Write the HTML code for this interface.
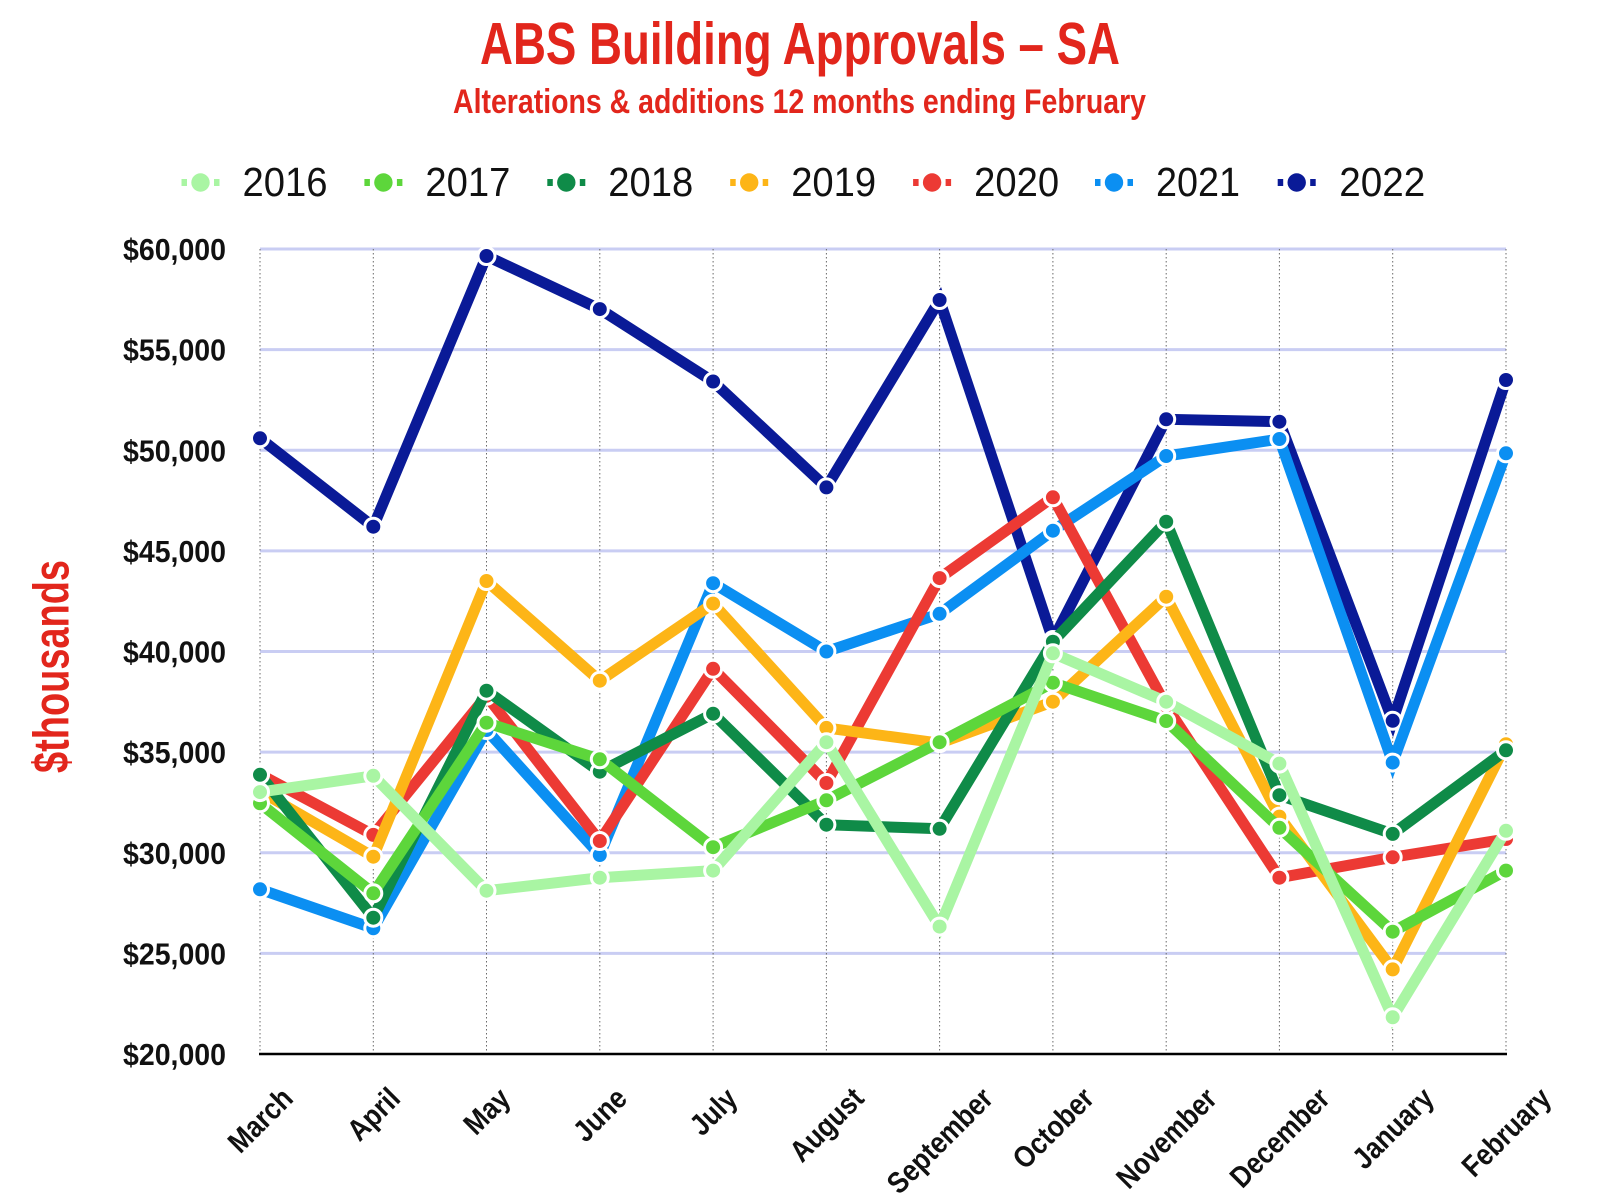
<!DOCTYPE html>
<html>
<head>
<meta charset="utf-8">
<style>
  html, body { margin: 0; padding: 0; background: #ffffff; }
  svg { display: block; }
  text { font-family: "Liberation Sans", "DejaVu Sans", sans-serif; }
</style>
</head>
<body>
<svg width="1600" height="1200" viewBox="0 0 1600 1200" xmlns="http://www.w3.org/2000/svg">
  <rect x="0" y="0" width="1600" height="1200" fill="#ffffff"/>

  <!-- Titles -->
  <text x="480" y="64" font-size="59" font-weight="bold" fill="#e2261c" textLength="640" lengthAdjust="spacingAndGlyphs">ABS Building Approvals – SA</text>
  <text x="453" y="113" font-size="34.5" font-weight="bold" fill="#e2261c" textLength="693" lengthAdjust="spacingAndGlyphs">Alterations &amp; additions 12 months ending February</text>

  <!-- Legend -->
  <g>
    <rect x="181.5" y="179" width="5.5" height="7" fill="#a9f5a3"/><circle cx="200.5" cy="182.5" r="9.2" fill="#a9f5a3"/><rect x="214" y="179" width="5.5" height="7" fill="#a9f5a3"/>
    <text x="242.5" y="196" font-size="40.5" fill="#111" textLength="85" lengthAdjust="spacingAndGlyphs">2016</text>

    <rect x="364.4" y="179" width="5.5" height="7" fill="#5dd63b"/><circle cx="383.4" cy="182.5" r="9.2" fill="#5dd63b"/><rect x="396.9" y="179" width="5.5" height="7" fill="#5dd63b"/>
    <text x="425.4" y="196" font-size="40.5" fill="#111" textLength="85" lengthAdjust="spacingAndGlyphs">2017</text>

    <rect x="547.3" y="179" width="5.5" height="7" fill="#0f8b48"/><circle cx="566.3" cy="182.5" r="9.2" fill="#0f8b48"/><rect x="579.8" y="179" width="5.5" height="7" fill="#0f8b48"/>
    <text x="608.3" y="196" font-size="40.5" fill="#111" textLength="85" lengthAdjust="spacingAndGlyphs">2018</text>

    <rect x="730.2" y="179" width="5.5" height="7" fill="#fdb517"/><circle cx="749.2" cy="182.5" r="9.2" fill="#fdb517"/><rect x="762.7" y="179" width="5.5" height="7" fill="#fdb517"/>
    <text x="791.2" y="196" font-size="40.5" fill="#111" textLength="85" lengthAdjust="spacingAndGlyphs">2019</text>

    <rect x="913.1" y="179" width="5.5" height="7" fill="#ec3a34"/><circle cx="932.1" cy="182.5" r="9.2" fill="#ec3a34"/><rect x="945.6" y="179" width="5.5" height="7" fill="#ec3a34"/>
    <text x="974.1" y="196" font-size="40.5" fill="#111" textLength="85" lengthAdjust="spacingAndGlyphs">2020</text>

    <rect x="1095" y="179" width="5.5" height="7" fill="#0b8ff2"/><circle cx="1114" cy="182.5" r="9.2" fill="#0b8ff2"/><rect x="1127.5" y="179" width="5.5" height="7" fill="#0b8ff2"/>
    <text x="1156" y="196" font-size="40.5" fill="#111" textLength="84" lengthAdjust="spacingAndGlyphs">2021</text>

    <rect x="1277.7" y="179" width="5.5" height="7" fill="#0a1a97"/><circle cx="1296.7" cy="182.5" r="9.2" fill="#0a1a97"/><rect x="1310.2" y="179" width="5.5" height="7" fill="#0a1a97"/>
    <text x="1339.3" y="196" font-size="40.5" fill="#111" textLength="86" lengthAdjust="spacingAndGlyphs">2022</text>
  </g>

  <!-- Horizontal gridlines -->
  <g stroke="#c9cdf3" stroke-width="3">
    <line x1="260" y1="249" x2="1506" y2="249"/>
    <line x1="260" y1="349.6" x2="1506" y2="349.6"/>
    <line x1="260" y1="450.3" x2="1506" y2="450.3"/>
    <line x1="260" y1="550.9" x2="1506" y2="550.9"/>
    <line x1="260" y1="651.5" x2="1506" y2="651.5"/>
    <line x1="260" y1="752.1" x2="1506" y2="752.1"/>
    <line x1="260" y1="852.8" x2="1506" y2="852.8"/>
    <line x1="260" y1="953.4" x2="1506" y2="953.4"/>
  </g>

  <!-- Vertical dotted gridlines -->
  <g stroke="#6a6a6a" stroke-width="1" stroke-dasharray="1.5 2.5">
    <line x1="260" y1="249" x2="260" y2="1054"/>
    <line x1="373.3" y1="249" x2="373.3" y2="1054"/>
    <line x1="486.5" y1="249" x2="486.5" y2="1054"/>
    <line x1="599.8" y1="249" x2="599.8" y2="1054"/>
    <line x1="713.1" y1="249" x2="713.1" y2="1054"/>
    <line x1="826.4" y1="249" x2="826.4" y2="1054"/>
    <line x1="939.6" y1="249" x2="939.6" y2="1054"/>
    <line x1="1052.9" y1="249" x2="1052.9" y2="1054"/>
    <line x1="1166.2" y1="249" x2="1166.2" y2="1054"/>
    <line x1="1279.4" y1="249" x2="1279.4" y2="1054"/>
    <line x1="1392.7" y1="249" x2="1392.7" y2="1054"/>
    <line x1="1506" y1="249" x2="1506" y2="1054"/>
  </g>

  <!-- Baseline -->
  <line x1="259" y1="1054" x2="1507" y2="1054" stroke="#000" stroke-width="2.5"/>

  <!-- Y axis labels -->
  <g font-size="31" font-weight="bold" fill="#111" text-anchor="end">
    <text x="226" y="260" textLength="103" lengthAdjust="spacingAndGlyphs">$60,000</text>
    <text x="226" y="360.6" textLength="103" lengthAdjust="spacingAndGlyphs">$55,000</text>
    <text x="226" y="461.3" textLength="103" lengthAdjust="spacingAndGlyphs">$50,000</text>
    <text x="226" y="561.9" textLength="103" lengthAdjust="spacingAndGlyphs">$45,000</text>
    <text x="226" y="662.5" textLength="103" lengthAdjust="spacingAndGlyphs">$40,000</text>
    <text x="226" y="763.1" textLength="103" lengthAdjust="spacingAndGlyphs">$35,000</text>
    <text x="226" y="863.8" textLength="103" lengthAdjust="spacingAndGlyphs">$30,000</text>
    <text x="226" y="964.4" textLength="103" lengthAdjust="spacingAndGlyphs">$25,000</text>
    <text x="226" y="1065" textLength="103" lengthAdjust="spacingAndGlyphs">$20,000</text>
  </g>

  <!-- Y axis title -->
  <text transform="translate(68.5,666.5) rotate(-90)" text-anchor="middle" font-size="50" font-weight="bold" fill="#e2261c" textLength="213" lengthAdjust="spacingAndGlyphs">$thousands</text>

  <!-- X axis labels -->
  <g font-size="30" font-weight="bold" fill="#111" text-anchor="middle">
    <text transform="translate(260,1120) rotate(-45)" dy="10.5" textLength="77" lengthAdjust="spacingAndGlyphs">March</text>
    <text transform="translate(373.3,1114) rotate(-45)" dy="10.5" textLength="60" lengthAdjust="spacingAndGlyphs">April</text>
    <text transform="translate(486.5,1111) rotate(-45)" dy="10.5" textLength="51" lengthAdjust="spacingAndGlyphs">May</text>
    <text transform="translate(599.8,1114.5) rotate(-45)" dy="10.5" textLength="61" lengthAdjust="spacingAndGlyphs">June</text>
    <text transform="translate(713.1,1111.5) rotate(-45)" dy="10.5" textLength="52" lengthAdjust="spacingAndGlyphs">July</text>
    <text transform="translate(826.4,1124.5) rotate(-45)" dy="10.5" textLength="90" lengthAdjust="spacingAndGlyphs">August</text>
    <text transform="translate(939.6,1140.5) rotate(-45)" dy="10.5" textLength="135" lengthAdjust="spacingAndGlyphs">September</text>
    <text transform="translate(1052.9,1128) rotate(-45)" dy="10.5" textLength="100" lengthAdjust="spacingAndGlyphs">October</text>
    <text transform="translate(1166.2,1138) rotate(-45)" dy="10.5" textLength="127" lengthAdjust="spacingAndGlyphs">November</text>
    <text transform="translate(1279.4,1137.5) rotate(-45)" dy="10.5" textLength="126" lengthAdjust="spacingAndGlyphs">December</text>
    <text transform="translate(1392.7,1128) rotate(-45)" dy="10.5" textLength="100" lengthAdjust="spacingAndGlyphs">January</text>
    <text transform="translate(1506,1132) rotate(-45)" dy="10.5" textLength="111" lengthAdjust="spacingAndGlyphs">February</text>
  </g>

  <!-- Series -->
  <g fill="none" stroke-width="11" stroke-linejoin="miter" stroke-miterlimit="4">
    <!-- 2022 -->
    <polyline stroke="#0a1a97" points="260,438.3 373.3,526.7 486.5,256 599.8,309.1 713.1,381.5 826.4,487.4 939.6,300 1052.9,640 1166.2,419.3 1279.4,421.7 1392.7,720.8 1506,380"/>
    <g fill="#0a1a97" stroke="#ffffff" stroke-width="3">
      <circle cx="260" cy="438.3" r="8.5"/><circle cx="373.3" cy="526.7" r="8.5"/><circle cx="486.5" cy="256" r="8.5"/><circle cx="599.8" cy="309.1" r="8.5"/><circle cx="713.1" cy="381.5" r="8.5"/><circle cx="826.4" cy="487.4" r="8.5"/><circle cx="939.6" cy="300" r="8.5"/><circle cx="1052.9" cy="640" r="8.5"/><circle cx="1166.2" cy="419.3" r="8.5"/><circle cx="1279.4" cy="421.7" r="8.5"/><circle cx="1392.7" cy="720.8" r="8.5"/><circle cx="1506" cy="380" r="8.5"/>
    </g>

    <!-- 2021 -->
    <polyline stroke="#0b8ff2" points="260,889.3 373.3,928.3 486.5,730 599.8,855 713.1,583.2 826.4,651.5 939.6,613.8 1052.9,530.7 1166.2,456 1279.4,439 1392.7,762.6 1506,453.3"/>
    <g fill="#0b8ff2" stroke="#ffffff" stroke-width="3">
      <circle cx="260" cy="889.3" r="8.5"/><circle cx="373.3" cy="928.3" r="8.5"/><circle cx="486.5" cy="730" r="8.5"/><circle cx="599.8" cy="855" r="8.5"/><circle cx="713.1" cy="583.2" r="8.5"/><circle cx="826.4" cy="651.5" r="8.5"/><circle cx="939.6" cy="613.8" r="8.5"/><circle cx="1052.9" cy="530.7" r="8.5"/><circle cx="1166.2" cy="456" r="8.5"/><circle cx="1279.4" cy="439" r="8.5"/><circle cx="1392.7" cy="762.6" r="8.5"/><circle cx="1506" cy="453.3" r="8.5"/>
    </g>

    <!-- 2020 -->
    <polyline stroke="#ec3a34" points="260,774.3 373.3,834.9 486.5,695.8 599.8,841 713.1,668.8 826.4,783 939.6,578.1 1052.9,497.3 1166.2,705.8 1279.4,877.7 1392.7,857.3 1506,839"/>
    <g fill="#ec3a34" stroke="#ffffff" stroke-width="3">
      <circle cx="260" cy="774.3" r="8.5"/><circle cx="373.3" cy="834.9" r="8.5"/><circle cx="486.5" cy="695.8" r="8.5"/><circle cx="599.8" cy="841" r="8.5"/><circle cx="713.1" cy="668.8" r="8.5"/><circle cx="826.4" cy="783" r="8.5"/><circle cx="939.6" cy="578.1" r="8.5"/><circle cx="1052.9" cy="497.3" r="8.5"/><circle cx="1166.2" cy="705.8" r="8.5"/><circle cx="1279.4" cy="877.7" r="8.5"/><circle cx="1392.7" cy="857.3" r="8.5"/><circle cx="1506" cy="839" r="8.5"/>
    </g>

    <!-- 2019 -->
    <polyline stroke="#fdb517" points="260,791.1 373.3,856.7 486.5,581 599.8,680.7 713.1,603.6 826.4,727.9 939.6,743.2 1052.9,701.7 1166.2,596.7 1279.4,816.6 1392.7,969.4 1506,744.2"/>
    <g fill="#fdb517" stroke="#ffffff" stroke-width="3">
      <circle cx="260" cy="791.1" r="8.5"/><circle cx="373.3" cy="856.7" r="8.5"/><circle cx="486.5" cy="581" r="8.5"/><circle cx="599.8" cy="680.7" r="8.5"/><circle cx="713.1" cy="603.6" r="8.5"/><circle cx="826.4" cy="727.9" r="8.5"/><circle cx="939.6" cy="743.2" r="8.5"/><circle cx="1052.9" cy="701.7" r="8.5"/><circle cx="1166.2" cy="596.7" r="8.5"/><circle cx="1279.4" cy="816.6" r="8.5"/><circle cx="1392.7" cy="969.4" r="8.5"/><circle cx="1506" cy="744.2" r="8.5"/>
    </g>

    <!-- 2018 -->
    <polyline stroke="#0f8b48" points="260,774.8 373.3,917.7 486.5,690.7 599.8,771.7 713.1,713.7 826.4,824.7 939.6,828.8 1052.9,641.7 1166.2,521.7 1279.4,795.2 1392.7,833.9 1506,750.3"/>
    <g fill="#0f8b48" stroke="#ffffff" stroke-width="3">
      <circle cx="260" cy="774.8" r="8.5"/><circle cx="373.3" cy="917.7" r="8.5"/><circle cx="486.5" cy="690.7" r="8.5"/><circle cx="599.8" cy="771.7" r="8.5"/><circle cx="713.1" cy="713.7" r="8.5"/><circle cx="826.4" cy="824.7" r="8.5"/><circle cx="939.6" cy="828.8" r="8.5"/><circle cx="1052.9" cy="641.7" r="8.5"/><circle cx="1166.2" cy="521.7" r="8.5"/><circle cx="1279.4" cy="795.2" r="8.5"/><circle cx="1392.7" cy="833.9" r="8.5"/><circle cx="1506" cy="750.3" r="8.5"/>
    </g>

    <!-- 2017 -->
    <polyline stroke="#5dd63b" points="260,803.3 373.3,893.3 486.5,722.7 599.8,759.3 713.1,847.2 826.4,800.3 939.6,742.2 1052.9,682.7 1166.2,721 1279.4,827.8 1392.7,931.7 1506,870.6"/>
    <g fill="#5dd63b" stroke="#ffffff" stroke-width="3">
      <circle cx="260" cy="803.3" r="8.5"/><circle cx="373.3" cy="893.3" r="8.5"/><circle cx="486.5" cy="722.7" r="8.5"/><circle cx="599.8" cy="759.3" r="8.5"/><circle cx="713.1" cy="847.2" r="8.5"/><circle cx="826.4" cy="800.3" r="8.5"/><circle cx="939.6" cy="742.2" r="8.5"/><circle cx="1052.9" cy="682.7" r="8.5"/><circle cx="1166.2" cy="721" r="8.5"/><circle cx="1279.4" cy="827.8" r="8.5"/><circle cx="1392.7" cy="931.7" r="8.5"/><circle cx="1506" cy="870.6" r="8.5"/>
    </g>

    <!-- 2016 -->
    <polyline stroke="#a9f5a3" points="260,792.1 373.3,775.8 486.5,890.7 599.8,877.7 713.1,870.6 826.4,742.2 939.6,926.6 1052.9,653.3 1166.2,701.7 1279.4,763.6 1392.7,1017.3 1506,830.8"/>
    <g fill="#a9f5a3" stroke="#ffffff" stroke-width="3">
      <circle cx="260" cy="792.1" r="8.5"/><circle cx="373.3" cy="775.8" r="8.5"/><circle cx="486.5" cy="890.7" r="8.5"/><circle cx="599.8" cy="877.7" r="8.5"/><circle cx="713.1" cy="870.6" r="8.5"/><circle cx="826.4" cy="742.2" r="8.5"/><circle cx="939.6" cy="926.6" r="8.5"/><circle cx="1052.9" cy="653.3" r="8.5"/><circle cx="1166.2" cy="701.7" r="8.5"/><circle cx="1279.4" cy="763.6" r="8.5"/><circle cx="1392.7" cy="1017.3" r="8.5"/><circle cx="1506" cy="830.8" r="8.5"/>
    </g>
  </g>
</svg>
</body>
</html>
